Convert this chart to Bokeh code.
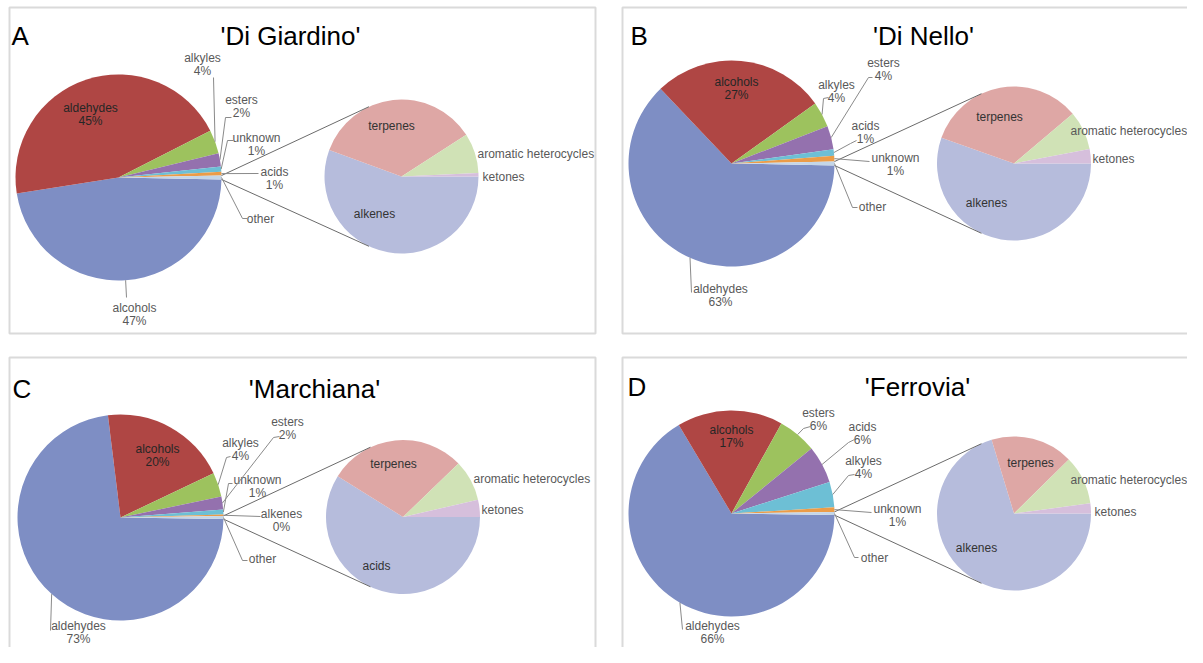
import math
from bokeh.plotting import figure
from bokeh.models import Range1d
from bokeh.core.properties import value
from bokeh.embed import file_html
from bokeh.resources import INLINE

# ------------------------------------------------------------------ data
letters = ["A", "B", "C", "D"]
titles = ["'Di Giardino'", "'Di Nello'", "'Marchiana'", "'Ferrovia'"]

a_names = ["alcohols", "aldehydes", "alkyles", "esters", "unknown", "acids", "other"]
a_values = [47.2, 45.0, 3.7, 2.1, 0.8, 0.6, 0.6]
a_pcts = ["47%", "45%", "4%", "2%", "1%", "1%", ""]
a_sub_names = ["alkenes", "terpenes", "aromatic heterocycles", "ketones"]
a_sub_values = [55.6, 35.3, 8.4, 0.7]

b_names = ["aldehydes", "alcohols", "alkyles", "esters", "acids", "unknown", "other"]
b_values = [62.6, 27.2, 4.0, 3.7, 1.0, 0.9, 0.6]
b_pcts = ["63%", "27%", "4%", "4%", "1%", "1%", ""]
b_sub_names = ["alkenes", "terpenes", "aromatic heterocycles", "ketones"]
b_sub_values = [55.4, 33.4, 8.2, 3.0]

c_names = ["aldehydes", "alcohols", "alkyles", "esters", "unknown", "alkenes", "other"]
c_values = [72.8, 19.9, 3.8, 2.0, 0.8, 0.2, 0.5]
c_pcts = ["73%", "20%", "4%", "2%", "1%", "0%", ""]
c_sub_names = ["acids", "terpenes", "aromatic heterocycles", "ketones"]
c_sub_values = [58.9, 28.9, 8.6, 3.6]

d_names = ["aldehydes", "alcohols", "esters", "acids", "alkyles", "unknown", "other"]
d_values = [66.2, 16.6, 6.1, 5.9, 4.0, 0.7, 0.5]
d_pcts = ["66%", "17%", "6%", "6%", "4%", "1%", ""]
d_sub_names = ["alkenes", "terpenes", "aromatic heterocycles", "ketones"]
d_sub_values = [70.3, 17.3, 10.3, 2.1]

main_colors = ["#7E8EC4", "#AF4644", "#9DC25E", "#9471AE", "#6DBFD5", "#EB9C48", "#C4D6E8"]
sub_colors = ["#B6BCDC", "#DEA7A5", "#D0E2B6", "#D6BFDC"]

# ------------------------------------------------------------------ layout (page pixels)
W, H = 1187, 647


def Y(y):
    return H - y


layouts = [
    dict(box=(9, 7, 595, 333), letter=(11, 35), title=(290, 35),
         c=(118, 177), R=103, s=(401, 176), r=77,
         labels=[(134, 307, [(126, 297)]), (90, 107, None), (202, 57, [(213, 77)]),
                 (241, 99, [(225, 117), (231, 117)]), (256, 137, [(227, 140), (233, 140)]),
                 (274, 171, [(258, 173)]), (260, 218, [(242, 218), (247, 218)])],
         sub_labels=[(374, 213, "center"), (391, 125, "center"), (477, 153, "left"), (482, 176, "left")]),
    dict(box=(622, 7, 1210, 333), letter=(630, 35), title=(923, 35),
         c=(731, 163), R=103, s=(1013.5, 163), r=77,
         labels=[(720, 288, [(691, 292)]), (736, 81, None), (836, 84, [(823, 98), (828, 97)]),
                 (883, 62, [(868, 77), (872, 77)]), (865, 125, [(850, 143), (856, 140)]),
                 (895, 157, [(869, 161)]), (872, 206, [(852, 207), (857, 207)])],
         sub_labels=[(986, 202, "center"), (999, 116, "center"), (1070, 130, "left"), (1092, 158, "left")]),
    dict(box=(9, 357, 595, 662), letter=(12, 388), title=(314, 388),
         c=(120, 517), R=103, s=(402.5, 516.5), r=77,
         labels=[(78, 625, [(50, 630)]), (157, 448, None), (240, 442, [(226, 457), (230, 456)]),
                 (287, 421, [(273, 437), (279, 436)]), (257, 479, [(228, 483), (232, 483)]),
                 (281, 513, [(260, 516)]), (262, 558, [(242, 560), (247, 560)])],
         sub_labels=[(376, 565, "center"), (393, 463, "center"), (473, 478, "left"), (481, 509, "left")]),
    dict(box=(622, 357, 1210, 670), letter=(627, 386), title=(917, 386),
         c=(731, 513), R=103, s=(1013.5, 513), r=77,
         labels=[(712, 625, [(682, 629)]), (731, 429, None), (818, 412, [(803, 428), (810, 426)]),
                 (862, 426, [(848, 442), (854, 439)]), (863, 460, [(848, 475), (854, 474)]),
                 (897, 508, [(871, 512)]), (874, 557, [(854, 557), (858, 557)])],
         sub_labels=[(976, 547, "center"), (1030, 462, "center"), (1070, 479, "left"), (1094, 511, "left")]),
]

panels = [
    (a_names, a_values, a_pcts, a_sub_names, a_sub_values),
    (b_names, b_values, b_pcts, b_sub_names, b_sub_values),
    (c_names, c_values, c_pcts, c_sub_names, c_sub_values),
    (d_names, d_values, d_pcts, d_sub_names, d_sub_values),
]

FONT = value("Liberation Sans")

p = figure(width=W, height=H, output_backend="svg", toolbar_location=None,
           x_range=Range1d(0, W), y_range=Range1d(0, H),
           min_border=0, x_axis_location=None, y_axis_location=None)
p.grid.visible = False
p.outline_line_color = None
p.background_fill_color = "white"
p.border_fill_color = "white"

for k, (names, vals, pcts, snames, svals) in enumerate(panels):
    L = layouts[k]
    x0, y0, x1, y1 = L["box"]
    p.quad(left=[x0], right=[x1], top=[Y(y0)], bottom=[Y(y1)], fill_color=None,
           line_color="#DADADA", line_width=2)

    cx, cy = L["c"][0], Y(L["c"][1])
    R = L["R"]
    sx, sy = L["s"][0], Y(L["s"][1])
    r = L["r"]

    # main pie: "other" centred on 3 o'clock, slices run clockwise
    tot = sum(vals)
    degs = [v / tot * 360.0 for v in vals]
    o = degs[-1]
    start = -o / 2.0
    his, los = [], []
    cum = 0.0
    for d in degs[:-1]:
        his.append(start - cum)
        cum += d
        los.append(start - cum)
    his.append(o / 2.0)
    los.append(-o / 2.0)
    p.wedge(x=[cx] * len(vals), y=[cy] * len(vals), radius=R,
            start_angle=[math.radians(a) for a in los], end_angle=[math.radians(a) for a in his],
            direction="anticlock", fill_color=main_colors, line_color=None)

    # secondary pie: starts at 3 o'clock, clockwise
    stot = sum(svals)
    sdeg = [v / stot * 360.0 for v in svals]
    shis, slos = [], []
    cum = 0.0
    for d in sdeg:
        shis.append(-cum)
        cum += d
        slos.append(-cum)
    p.wedge(x=[sx] * len(svals), y=[sy] * len(svals), radius=r,
            start_angle=[math.radians(a) for a in slos], end_angle=[math.radians(a) for a in shis],
            direction="anticlock", fill_color=sub_colors, line_color=None)

    # connector lines
    cxs, cys = [], []
    for sign in (1, -1):
        a1 = math.radians(sign * o / 2.0)
        a2 = math.radians(sign * 115.0)
        cxs.append([cx + R * math.cos(a1), sx + r * math.cos(a2)])
        cys.append([cy + R * math.sin(a1), sy + r * math.sin(a2)])
    p.multi_line(xs=cxs, ys=cys, line_color="#6B6B6B", line_width=1)

    # labels of main pie
    lxs, lys = [], []
    for i, (tx, ty, pts) in enumerate(L["labels"]):
        inside = pts is None
        col = "#262626" if inside else "#595959"
        txts = [names[i]] + ([pcts[i]] if pcts[i] else [])
        p.text(x=[tx] * len(txts), y=[Y(ty), Y(ty + 13.5)][:len(txts)], text=txts,
               text_align="center", text_baseline="middle", text_font=FONT,
               text_font_size="12px", text_color=col)
        if pts:
            mid = math.radians((his[i] + los[i]) / 2.0)
            xs = [cx + R * math.cos(mid)] + [q[0] for q in pts]
            ys = [cy + R * math.sin(mid)] + [Y(q[1]) for q in pts]
            lxs.append(xs)
            lys.append(ys)
    p.multi_line(xs=lxs, ys=lys, line_color="#8A8A8A", line_width=1)

    # labels of secondary pie
    for j, (tx, ty, al) in enumerate(L["sub_labels"]):
        col = "#333333" if al == "center" else "#595959"
        p.text(x=[tx], y=[Y(ty)], text=[snames[j]], text_align=al, text_baseline="middle",
               text_font=FONT, text_font_size="12px", text_color=col)

    # letter and title
    lx, ly = L["letter"]
    p.text(x=[lx], y=[Y(ly)], text=[letters[k]], text_align="left", text_baseline="alphabetic",
           text_font=FONT, text_font_size="26px", text_color="#000000")
    tx, ty = L["title"]
    p.text(x=[tx], y=[Y(ty)], text=[titles[k]], text_align="center", text_baseline="alphabetic",
           text_font=FONT, text_font_size="26px", text_color="#000000")

open("out.html", "w").write(file_html(p, INLINE))
